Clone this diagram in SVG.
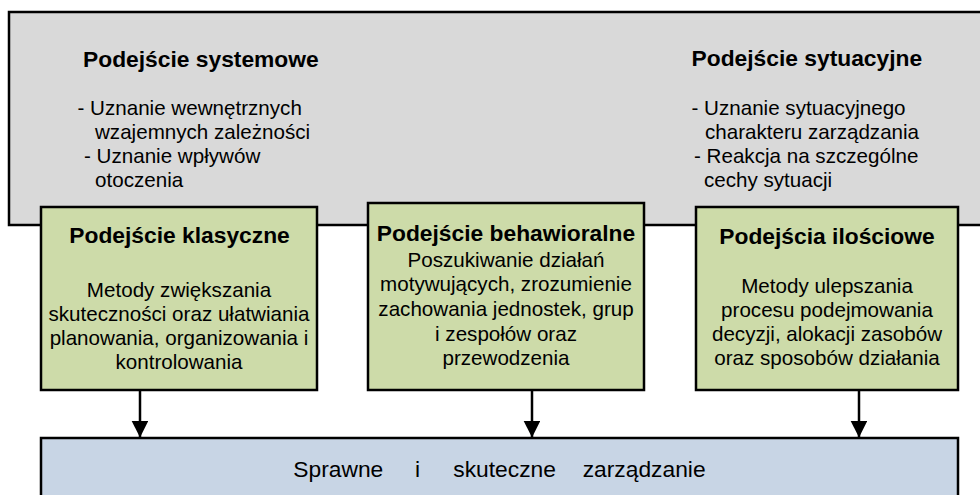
<svg xmlns="http://www.w3.org/2000/svg" width="980" height="495" viewBox="0 0 980 495">
  <style>
    .frame { stroke: #000; stroke-width: 2.5; }
    .outer { fill: #d9d9d9; }
    .approach { fill: #cddba9; }
    .result { fill: #c8d5e5; }
    text { font-family: "Liberation Sans", Arial, sans-serif; fill: #000; }
    .title { font-size: 22.8px; font-weight: bold; }
    .body { font-size: 20.6px; }
    .big { font-size: 22.8px; }
    .mid { text-anchor: middle; }
    .link { stroke: #000; stroke-width: 2.5; fill: none; marker-end: url(#head); }
  </style>
  <defs>
    <marker id="head" markerUnits="userSpaceOnUse" markerWidth="17" markerHeight="17" refX="16.5" refY="8.3" orient="auto">
      <path d="M0,0 L16.5,8.3 L0,16.6 Z" fill="#000"/>
    </marker>
  </defs>

  <!-- Outer frame: systems and situational approaches -->
  <g id="outer-frame">
    <rect class="frame outer" x="9" y="12" width="990" height="213"/>
    <text class="title" x="83" y="67">Podejście systemowe</text>
    <text class="body" x="77.5" y="115">- Uznanie wewnętrznych</text>
    <text class="body" x="95" y="139">wzajemnych zależności</text>
    <text class="body" x="84" y="162.5">- Uznanie wpływów</text>
    <text class="body" x="95" y="186.5">otoczenia</text>

    <text class="title" x="691.5" y="66">Podejście sytuacyjne</text>
    <text class="body" x="691.5" y="114.5">- Uznanie sytuacyjnego</text>
    <text class="body" x="705" y="139">charakteru zarządzania</text>
    <text class="body" x="694" y="162.5">- Reakcja na szczególne</text>
    <text class="body" x="704" y="186.5">cechy sytuacji</text>
  </g>

  <!-- Connectors -->
  <g id="connectors">
    <line class="link" x1="140" y1="390" x2="140" y2="437.5"/>
    <line class="link" x1="532" y1="390" x2="532" y2="437.5"/>
    <line class="link" x1="859" y1="390" x2="859" y2="437.5"/>
  </g>

  <!-- Classical approach -->
  <g id="classical">
    <rect class="frame approach" x="41" y="207" width="276" height="183"/>
    <text class="title mid" x="179.5" y="242.5">Podejście klasyczne</text>
    <text class="body mid" x="179" y="296.5">Metody zwiększania</text>
    <text class="body mid" x="179" y="320.5">skuteczności oraz ułatwiania</text>
    <text class="body mid" x="179" y="344.5">planowania, organizowania i</text>
    <text class="body mid" x="179" y="368.5">kontrolowania</text>
  </g>

  <!-- Behavioural approach -->
  <g id="behavioural">
    <rect class="frame approach" x="368" y="203" width="276" height="187"/>
    <text class="title mid" x="506" y="241">Podejście behawioralne</text>
    <text class="body mid" x="506" y="266.5">Poszukiwanie działań</text>
    <text class="body mid" x="506" y="291">motywujących, zrozumienie</text>
    <text class="body mid" x="506" y="315.5">zachowania jednostek, grup</text>
    <text class="body mid" x="506" y="340.5">i zespołów oraz</text>
    <text class="body mid" x="506" y="365">przewodzenia</text>
  </g>

  <!-- Quantitative approaches -->
  <g id="quantitative">
    <rect class="frame approach" x="696" y="207" width="262" height="183"/>
    <text class="title mid" x="827" y="244">Podejścia ilościowe</text>
    <text class="body mid" x="827" y="292.5">Metody ulepszania</text>
    <text class="body mid" x="827" y="316.5">procesu podejmowania</text>
    <text class="body mid" x="827" y="340.5">decyzji, alokacji zasobów</text>
    <text class="body mid" x="827" y="365">oraz sposobów działania</text>
  </g>

  <!-- Outcome -->
  <g id="outcome">
    <rect class="frame result" x="41" y="438" width="917" height="70"/>
    <text class="big" y="476.5"><tspan x="293.3">Sprawne</tspan><tspan x="415">i</tspan><tspan x="453.3">skuteczne</tspan><tspan x="582.7">zarządzanie</tspan></text>
  </g>
</svg>
